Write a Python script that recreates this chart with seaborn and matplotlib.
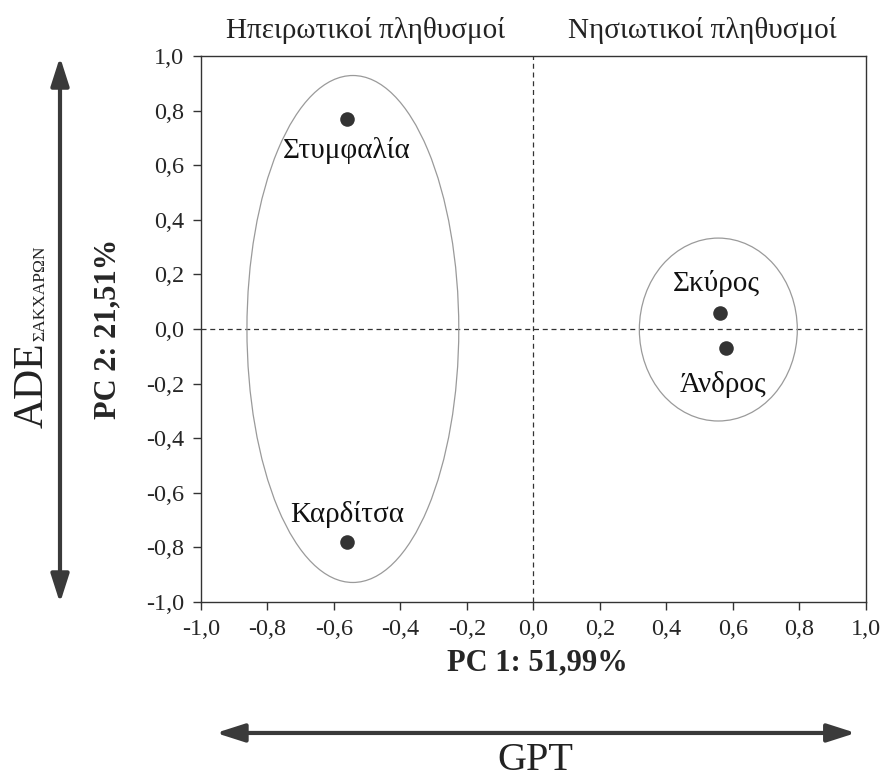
import numpy as np
import pandas as pd
import matplotlib
matplotlib.use("Agg")
import matplotlib.pyplot as plt
from matplotlib.patches import Ellipse, FancyArrowPatch
import seaborn as sns

# ---- data ----
populations = ["Στυμφαλία", "Καρδίτσα", "Σκύρος", "Άνδρος"]
pc1 = [-0.56, -0.56, 0.56, 0.58]
pc2 = [0.77, -0.78, 0.06, -0.07]
label_x = [-0.56, -0.56, 0.55, 0.57]
label_y = [0.655, -0.68, 0.165, -0.205]
group_names = ["Ηπειρωτικοί πληθυσμοί", "Νησιωτικοί πληθυσμοί"]
group_x = [-0.505, 0.507]
ellipse_center = [(-0.543, 0.0), (0.556, -0.002)]
ellipse_size = [(0.637, 1.857), (0.475, 0.67)]
ticks = [-1.0, -0.8, -0.6, -0.4, -0.2, 0.0, 0.2, 0.4, 0.6, 0.8, 1.0]
tick_labels = [f"{t:.1f}".replace(".", ",") for t in ticks]

sns.set_style("ticks")
plt.rcParams["font.family"] = ["Liberation Serif", "DejaVu Serif"]

fig = plt.figure(figsize=(8.85, 7.81), dpi=100)
ax = fig.add_axes([0.227, 0.2292, 0.7515, 0.6991])

df = pd.DataFrame({"PC1": pc1, "PC2": pc2, "pop": populations})
sns.scatterplot(data=df, x="PC1", y="PC2", ax=ax, s=110, color="#333333",
                edgecolor="#333333", linewidth=0, zorder=3, legend=False)

for (cx, cy), (w, h) in zip(ellipse_center, ellipse_size):
    ax.add_patch(Ellipse((cx, cy), w, h, fill=False, edgecolor="#9a9a9a",
                         linewidth=0.9, zorder=2))

for name, lx, ly in zip(populations, label_x, label_y):
    ax.text(lx, ly, name, ha="center", va="center", fontsize=21, color="#111111")

ax.axhline(0, color="#333333", linestyle=(0, (4, 3)), linewidth=0.9, zorder=1)
ax.axvline(0, color="#333333", linestyle=(0, (4, 3)), linewidth=0.9, zorder=1)

ax.set_xlim(-1, 1)
ax.set_ylim(-1, 1)
ax.set_xticks(ticks)
ax.set_xticklabels(tick_labels, fontsize=17.5)
ax.set_yticks(ticks)
ax.set_yticklabels(tick_labels, fontsize=17.5)
ax.tick_params(direction="out", length=6, width=1, color="#333333", pad=6)
for sp in ax.spines.values():
    sp.set_color("#333333")
    sp.set_linewidth(1.0)
ax.set_xlabel("")
ax.set_ylabel("")

for gx, gname in zip(group_x, group_names):
    ax.text(gx, 1.095, gname, ha="center", va="center", fontsize=21,
            color="#222222", clip_on=False)

fig.text(0.607, 0.151, "PC 1: 51,99%", ha="center", va="center",
         fontsize=22, fontweight="bold")
fig.text(0.122, 0.579, "PC 2: 21,51%", ha="center", va="center",
         fontsize=22, fontweight="bold", rotation=90)
fig.text(0.605, 0.002, "GPT", ha="center", va="bottom", fontsize=29,
         color="#222222")

# ADE with a small subscript, both rotated
t_main = fig.text(0.0486, 0.452, "ADE", ha="left", va="baseline",
                  rotation=90, rotation_mode="anchor", fontsize=30,
                  color="#222222")
fig.canvas.draw()
bb = t_main.get_window_extent(fig.canvas.get_renderer())
y_top = bb.y1 / fig.bbox.height
fig.text(0.0497, y_top + 0.002, "ΣΑΚΧΑΡΩΝ", ha="left", va="baseline",
         rotation=90, rotation_mode="anchor", fontsize=12.5, color="#222222")

arrow_kw = dict(arrowstyle="<|-|>,head_length=0.78,head_width=0.25",
                color="#3a3a3a", linewidth=3, mutation_scale=22,
                transform=fig.transFigure, shrinkA=0, shrinkB=0)
fig.patches.append(FancyArrowPatch((0.244, 0.0615), (0.967, 0.0615), **arrow_kw))
fig.patches.append(FancyArrowPatch((0.0678, 0.927), (0.0678, 0.2279), **arrow_kw))

fig.savefig("out.png", dpi=100)
